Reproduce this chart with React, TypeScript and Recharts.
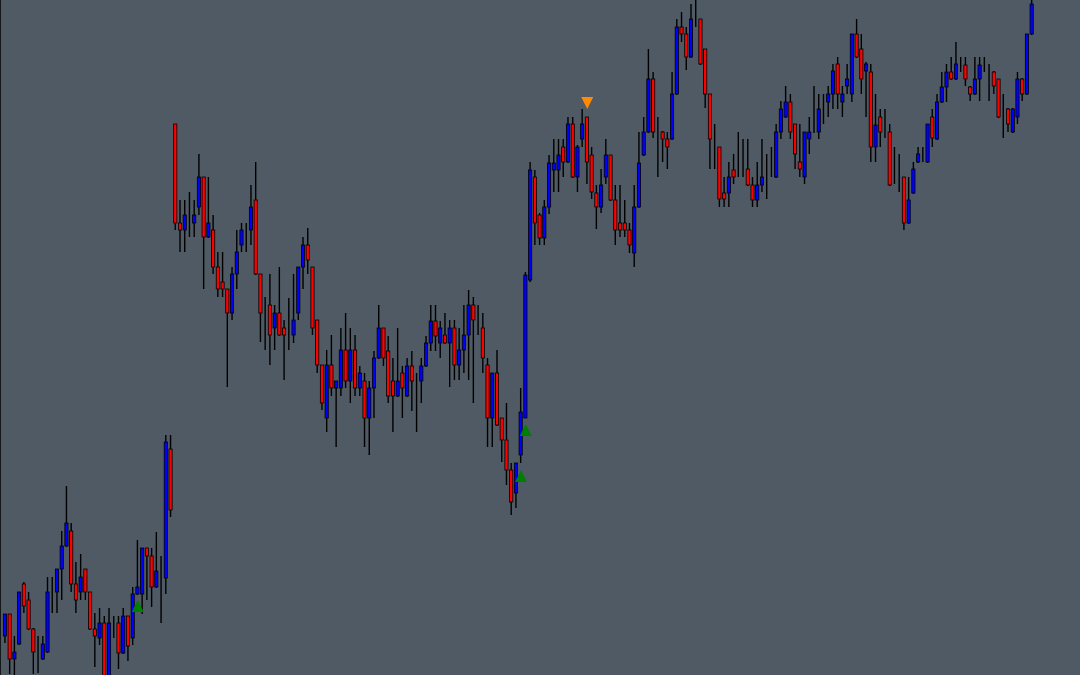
import React from 'react';
import { ComposedChart, Bar, Scatter, XAxis, YAxis } from 'recharts';

const openPrices = [
  364,386,341,356,416,400,371,341,341,348,
  400,408,431,454,469,416,408,431,408,371,
  362,377,323,377,377,347,384,362,406,406,
  452,444,413,429,422,551,876,777,770,778,
  777,793,823,763,770,733,718,711,687,726,
  755,770,770,800,726,687,695,672,687,672,
  665,665,687,733,755,733,680,635,582,635,
  612,612,650,619,650,612,619,582,612,642,
  672,649,619,604,627,604,634,612,619,634,
  657,679,657,665,657,672,635,650,665,695,
  680,672,635,582,627,582,560,530,507,545,
  582,720,823,785,762,793,830,830,853,838,
  876,823,861,883,845,807,793,823,845,800,
  777,777,770,747,793,845,868,921,868,868,
  861,861,906,973,966,943,975,981,951,906,
  853,853,807,807,830,831,831,831,815,800,
  815,823,830,823,868,883,898,876,838,823,
  861,868,868,898,898,906,936,898,914,906,
  966,951,929,928,853,883,868,868,823,823,
  823,777,807,838,846,838,883,861,898,913,
  928,921,935,935,913,906,921,936,929,928,
  921,883,891,868,883,921,906,966,
];

const highPrices = [
  386,386,364,408,418,408,372,364,364,423,
  423,431,469,514,477,438,446,431,408,387,
  392,384,392,384,384,392,384,413,460,452,
  452,452,468,444,565,565,876,800,800,808,
  800,846,823,823,785,748,748,711,733,770,
  777,777,815,838,726,703,726,695,733,680,
  702,726,733,763,772,733,680,635,650,665,
  619,672,687,672,665,634,627,619,649,695,
  672,664,642,672,634,642,649,627,642,664,
  695,695,679,687,680,680,672,695,710,703,
  695,687,642,627,650,582,597,537,537,612,
  728,838,830,787,800,845,861,861,861,883,
  883,855,891,883,853,815,831,861,845,815,
  815,800,777,815,868,883,951,928,883,869,
  868,928,981,988,973,996,1003,981,951,906,
  876,853,823,838,846,868,861,861,823,838,
  861,846,853,876,899,914,906,876,876,868,
  883,914,906,906,914,936,943,914,936,966,
  981,966,938,936,906,891,891,876,853,846,
  823,823,838,853,853,876,891,906,928,936,
  943,958,943,943,914,943,943,943,936,929,
  921,906,892,892,928,922,966,1000,
];

const lowPrices = [
  357,326,320,355,387,370,326,327,340,347,
  387,387,400,453,408,387,400,400,370,333,
  355,320,320,362,331,346,339,355,405,386,
  400,393,412,377,406,483,770,748,748,763,
  763,785,711,762,726,703,703,613,680,711,
  748,748,755,725,658,650,635,650,664,620,
  650,657,680,711,726,665,627,590,568,604,
  553,604,612,597,604,604,553,545,582,641,
  634,597,568,603,582,603,589,568,597,633,
  649,649,642,656,613,620,620,627,620,597,
  665,627,553,553,574,538,515,485,492,537,
  582,718,755,755,755,786,808,808,823,837,
  822,808,853,816,801,771,787,816,799,755,
  763,763,747,733,792,844,867,862,823,838,
  831,860,905,958,930,942,973,935,892,831,
  831,793,793,793,816,823,823,814,793,793,
  808,801,823,822,861,882,861,831,823,816,
  846,867,861,876,883,891,891,883,906,898,
  942,906,883,838,838,853,862,814,816,808,
  770,776,806,837,838,837,853,860,897,898,
  920,920,928,914,899,905,899,928,899,906,
  882,862,868,867,876,899,905,965,
];

const closePrices = [
  386,341,348,408,394,371,348,341,356,408,
  400,431,454,477,416,400,423,408,371,364,
  377,323,377,377,347,384,354,406,413,452,
  444,413,429,429,558,490,777,770,785,778,
  785,823,763,777,733,711,711,687,726,748,
  770,770,793,726,687,687,665,687,665,665,
  665,680,733,755,740,672,635,597,635,612,
  619,650,619,650,612,627,582,612,642,672,
  642,604,604,619,612,634,619,612,634,657,
  679,664,672,657,672,635,650,665,695,680,
  680,642,582,627,575,560,530,498,537,588,
  725,830,777,762,793,837,837,845,838,876,
  823,853,876,838,808,793,815,845,800,770,
  770,770,755,793,837,868,921,868,868,861,
  853,906,973,966,943,981,975,936,906,861,
  853,801,801,823,823,831,831,815,800,815,
  823,823,830,868,891,898,868,846,831,868,
  868,868,891,898,906,929,906,906,921,966,
  943,921,936,853,875,868,868,815,823,823,
  777,800,831,846,846,876,862,898,913,928,
  921,936,935,921,906,921,935,936,929,914,
  883,883,876,891,921,906,966,996,
];

const buySignalIndex = [28, 109, 110];
const buySignalLevel = [394, 524, 570];
const sellSignalIndex = [123];
const sellSignalLevel = [897];

const candles = openPrices.map((o, i) => ({
  i,
  open: o,
  high: highPrices[i],
  low: lowPrices[i],
  close: closePrices[i],
  range: [lowPrices[i], highPrices[i]],
}));

const buySignals = buySignalIndex.map((i, k) => ({ i, level: buySignalLevel[k] }));
const sellSignals = sellSignalIndex.map((i, k) => ({ i, level: sellSignalLevel[k] }));

const BG = '#4f5a64';

const CandleShape = (props: any) => {
  const { x, y, width, height, payload } = props;
  if (payload == null || x == null || y == null) return null;
  const { open, close, high, low } = payload;
  const top = Math.min(y, y + height);
  const h = Math.abs(height);
  const cx = x + width / 2;
  const ratio = h / (high - low);
  const bTop = top + (high - Math.max(open, close)) * ratio;
  const bBot = top + (high - Math.min(open, close)) * ratio;
  const color = close > open ? '#0000ff' : close < open ? '#ff0000' : '#000000';
  return (
    <g>
      <line x1={cx} x2={cx} y1={top} y2={top + h} stroke="#000" strokeWidth={1.4} />
      <rect
        x={cx - 1.6}
        y={bTop}
        width={3.2}
        height={Math.max(bBot - bTop, 0)}
        fill={color}
        stroke="#000"
        strokeWidth={0.8}
      />
    </g>
  );
};

const BuyTriangle = (props: any) => {
  const { cx, cy } = props;
  if (cx == null || cy == null) return null;
  return (
    <polygon
      points={`${cx},${cy - 6} ${cx + 6},${cy + 6} ${cx - 6},${cy + 6}`}
      fill="#008000"
    />
  );
};

const SellTriangle = (props: any) => {
  const { cx, cy } = props;
  if (cx == null || cy == null) return null;
  return (
    <polygon
      points={`${cx - 6},${cy - 6} ${cx + 6},${cy - 6} ${cx},${cy + 6}`}
      fill="#ff8c00"
    />
  );
};

export default function App() {
  return (
    <div
      style={{
        position: 'fixed',
        left: 0,
        top: 0,
        width: 1080,
        height: 675,
        background: BG,
        overflow: 'hidden',
      }}
    >
      <ComposedChart
        width={1080}
        height={675}
        data={candles}
        margin={{ top: 0, right: 0, bottom: 0, left: 0 }}
      >
        <XAxis
          type="number"
          dataKey="i"
          domain={[-1.12, 227.14]}
          allowDataOverflow
          hide
        />
        <YAxis type="number" domain={[325, 1000]} allowDataOverflow hide />
        <Bar
          dataKey="range"
          barSize={4}
          shape={CandleShape}
          isAnimationActive={false}
        />
        <Scatter
          data={buySignals}
          dataKey="level"
          shape={BuyTriangle}
          isAnimationActive={false}
        />
        <Scatter
          data={sellSignals}
          dataKey="level"
          shape={SellTriangle}
          isAnimationActive={false}
        />
      </ComposedChart>
      <div
        style={{
          position: 'absolute',
          left: 0,
          top: 0,
          width: 1,
          height: 675,
          background: '#15181b',
        }}
      />
    </div>
  );
}
